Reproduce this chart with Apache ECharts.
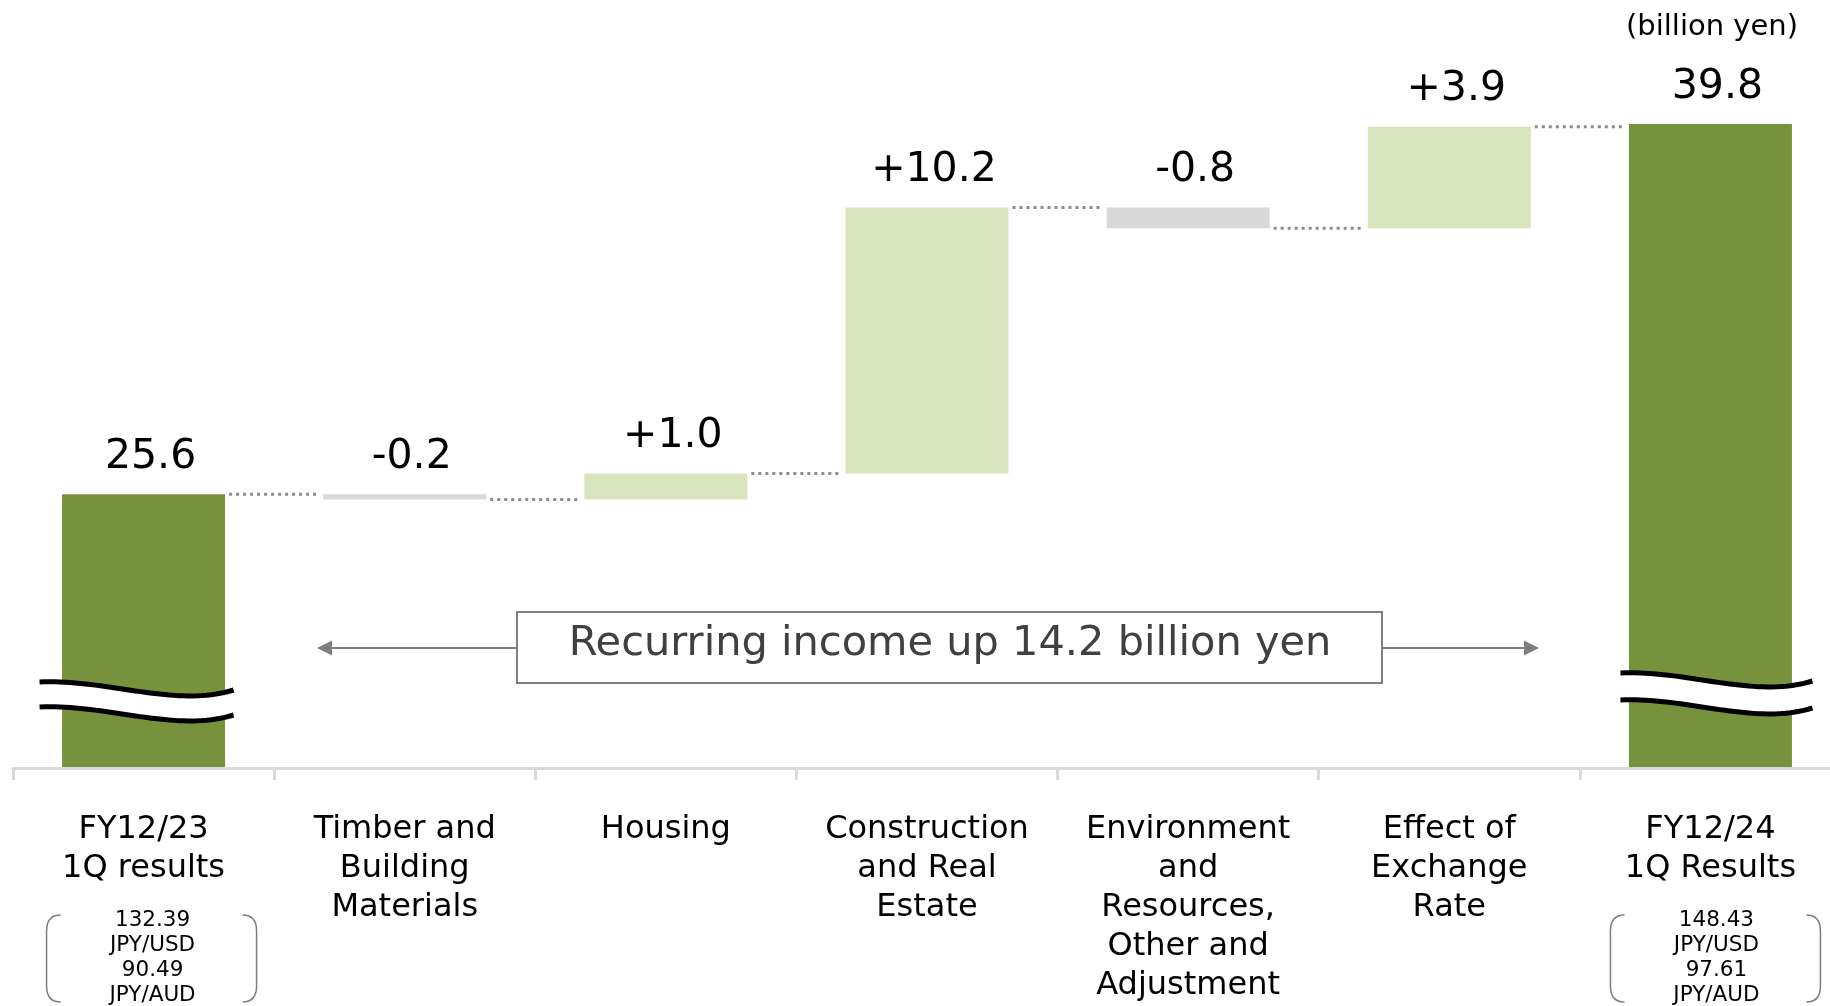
<!DOCTYPE html>
<html lang="en">
<head>
    <meta charset="UTF-8"/>
    <title>recurring income bridge</title>
    <script src="https://cdn.jsdelivr.net/npm/echarts@6/dist/echarts.min.js"></script>
    <style>
        html, body { margin: 0; padding: 0; background: #fff; }
        #main { width: 1830px; height: 1006px; }
    </style>
</head>
<body>
<div id="main"></div>
<script type="text/javascript">
    // categories on the x axis
    var categories = ['FY12/23\n1Q results', 'Timber and\nBuilding\nMaterials', 'Housing',
        'Construction\nand Real\nEstate', 'Environment\nand\nResources,\nOther and\nAdjustment',
        'Effect of\nExchange\nRate', 'FY12/24\n1Q Results'];

    // billion yen
    var startTotal = 25.6;
    var endTotal = 39.8;
    var changes = [-0.2, 1.0, 10.2, -0.8, 3.9];

    // exchange rates shown under the two result bars
    var rateCats = [0, 6];
    var rateUSD = ['132.39', '148.43'];
    var rateAUD = ['90.49', '97.61'];

    var yMin = 15.1, yMax = 44.1;
    var FONT = '"DejaVu Sans", Verdana, sans-serif';
    var BAR_W = 163;
    var DARK = '#76923c', LIGHT = '#d7e4bd', GREY = '#d9d9d9';

    // wavy break marks + rate brackets, per result bar (px offsets from axis line / bar centre)
    var breakStyle = [
        {lift: 86, left: -104, right: 90, gap: 25, boxDx: 8},
        {lift: 95, left: -90, right: 102, gap: 27, boxDx: 5}
    ];

    // build waterfall pieces
    var helper = [], visible = [], labels = [], levels = [];
    var level = startTotal;
    helper.push('-');
    visible.push({value: startTotal, itemStyle: {color: DARK}});
    labels.push(startTotal.toFixed(1));
    levels.push(level);
    changes.forEach(function (d) {
        var next = Math.round((level + d) * 10) / 10;
        helper.push(Math.min(level, next));
        visible.push({value: Math.abs(d), itemStyle: {color: d >= 0 ? LIGHT : GREY}});
        labels.push((d >= 0 ? '+' : '') + d.toFixed(1));
        level = next;
        levels.push(level);
    });
    helper.push('-');
    visible.push({value: endTotal, itemStyle: {color: DARK}});
    labels.push(endTotal.toFixed(1));

    var connectors = [];
    for (var i = 0; i < levels.length; i++) connectors.push([i, levels[i]]);

    function wave(xl, xr, y) {
        var w = xr - xl, pts = [];
        var P = [[xl, y], [xl + 0.35 * w, y - 3], [xl + 0.7 * w, y + 26], [xr, y + 8]];
        for (var k = 0; k <= 40; k++) {
            var t = k / 40, u = 1 - t;
            var a = u * u * u, b = 3 * u * u * t, c = 3 * u * t * t, e = t * t * t;
            pts.push([a * P[0][0] + b * P[1][0] + c * P[2][0] + e * P[3][0],
                a * P[0][1] + b * P[1][1] + c * P[2][1] + e * P[3][1]]);
        }
        return pts;
    }

    function bracketPath(x, top, bottom, dir) {
        // dir = 1 for left "(", -1 for right ")"
        var s = 14 * dir;
        return 'M' + (x + s) + ' ' + top + ' Q' + x + ' ' + top + ' ' + x + ' ' + (top + 16) +
            ' L' + x + ' ' + (bottom - 16) + ' Q' + x + ' ' + bottom + ' ' + (x + s) + ' ' + bottom;
    }

    var myChart = echarts.init(document.getElementById('main'));

    var option = {
        animation: false,
        grid: {left: 13, top: 12, width: 1828, bottom: 238, outerBoundsMode: 'none', containLabel: false},
        xAxis: {
            type: 'category',
            data: categories,
            z: 3,
            axisLine: {lineStyle: {color: '#d9d9d9', width: 3}},
            axisTick: {show: true, length: 12, lineStyle: {color: '#d9d9d9', width: 3}},
            axisLabel: {interval: 0, margin: 42, fontSize: 32, lineHeight: 39, color: '#000', fontFamily: FONT},
            splitLine: {show: false}
        },
        yAxis: {type: 'value', min: yMin, max: yMax, show: false},
        series: [
            {
                name: 'base',
                type: 'bar',
                stack: 'wf',
                barWidth: BAR_W,
                itemStyle: {color: 'transparent'},
                data: helper,
                silent: true
            },
            {
                name: 'value',
                type: 'bar',
                stack: 'wf',
                barWidth: BAR_W,
                data: visible,
                label: {
                    show: true,
                    position: 'top',
                    distance: 16.5,
                    offset: [7, 0],
                    fontSize: 41,
                    lineHeight: 41,
                    color: '#000',
                    fontFamily: FONT,
                    formatter: function (p) { return labels[p.dataIndex]; }
                }
            },
            {
                name: 'connectors',
                type: 'custom',
                z: 4,
                data: connectors,
                renderItem: function (params, api) {
                    var idx = api.value(0), v = api.value(1);
                    var a = api.coord([idx, v]), b = api.coord([idx + 1, v]);
                    return {
                        type: 'line',
                        shape: {x1: a[0] + BAR_W / 2 + 4, y1: a[1], x2: b[0] - BAR_W / 2 - 4, y2: b[1]},
                        style: {stroke: '#8c8c8c', lineWidth: 3, lineDash: [3, 4]}
                    };
                }
            },
            {
                name: 'decor',
                type: 'custom',
                z: 5,
                data: rateCats.map(function (c) { return [c, yMin]; }),
                renderItem: function (params, api) {
                    var k = params.dataIndex;
                    var base = api.coord([api.value(0), yMin]);
                    var cx = base[0], ax = base[1];
                    var bs = breakStyle[k];
                    var y0 = ax - bs.lift;
                    var up = wave(cx + bs.left, cx + bs.right, y0);
                    var lo = wave(cx + bs.left, cx + bs.right, y0 + bs.gap);
                    var fill = up.concat(lo.slice().reverse());
                    var bx = cx + bs.boxDx;
                    var bl = bx - 105, br = bx + 105, top = ax + 147, bottom = ax + 234;
                    var txt = [rateUSD[k], 'JPY/USD', rateAUD[k], 'JPY/AUD'];
                    var children = [
                        {type: 'polygon', shape: {points: fill}, style: {fill: '#fff'}},
                        {type: 'polyline', shape: {points: up}, style: {stroke: '#000', lineWidth: 5, fill: null}},
                        {type: 'polyline', shape: {points: lo}, style: {stroke: '#000', lineWidth: 5, fill: null}},
                        {type: 'path', shape: {pathData: bracketPath(bl, top, bottom, 1)},
                            style: {stroke: '#7f7f7f', lineWidth: 1.5, fill: 'none'}},
                        {type: 'path', shape: {pathData: bracketPath(br, top, bottom, -1)},
                            style: {stroke: '#7f7f7f', lineWidth: 1.5, fill: 'none'}}
                    ];
                    txt.forEach(function (t, j) {
                        children.push({
                            type: 'text',
                            style: {
                                text: t, x: bx + 1, y: ax + 152.5 + j * 25,
                                font: '21.5px ' + FONT, fill: '#000',
                                align: 'center', verticalAlign: 'middle'
                            }
                        });
                    });
                    return {type: 'group', children: children};
                }
            }
        ],
        graphic: [
            {
                type: 'text',
                style: {
                    text: '(billion yen)', x: 1798, y: 27,
                    font: '29px ' + FONT, fill: '#000', align: 'right', verticalAlign: 'middle'
                }
            },
            {type: 'line', shape: {x1: 517, y1: 648, x2: 330, y2: 648}, style: {stroke: '#7f7f7f', lineWidth: 2}},
            {type: 'polygon', shape: {points: [[317, 648], [332, 640.5], [332, 655.5]]}, style: {fill: '#7f7f7f'}},
            {type: 'line', shape: {x1: 1382, y1: 648, x2: 1526, y2: 648}, style: {stroke: '#7f7f7f', lineWidth: 2}},
            {type: 'polygon', shape: {points: [[1539, 648], [1524, 640.5], [1524, 655.5]]}, style: {fill: '#7f7f7f'}},
            {
                type: 'rect',
                shape: {x: 517, y: 612, width: 865, height: 71},
                style: {fill: '#fff', stroke: '#7f7f7f', lineWidth: 2}
            },
            {
                type: 'text',
                style: {
                    text: 'Recurring income up ' + (endTotal - startTotal).toFixed(1) + ' billion yen',
                    x: 950, y: 644, font: '41.5px ' + FONT, fill: '#404040',
                    align: 'center', verticalAlign: 'middle'
                }
            }
        ]
    };

    myChart.setOption(option);
</script>
</body>
</html>
